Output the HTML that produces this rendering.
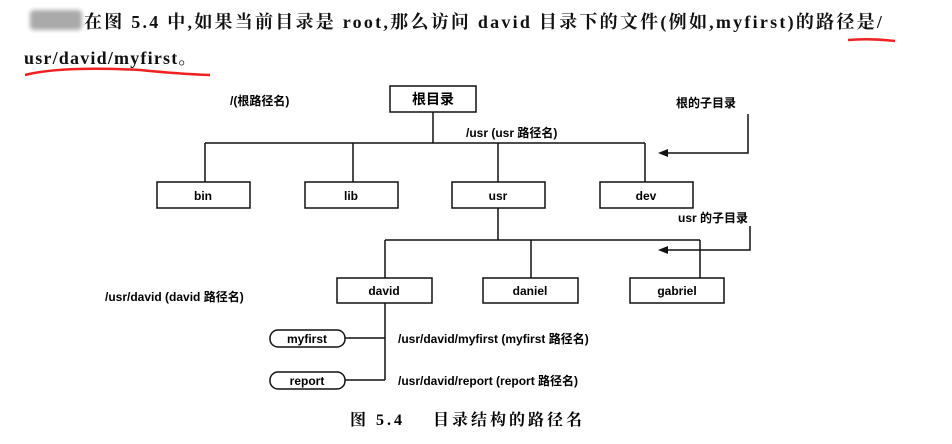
<!DOCTYPE html>
<html><head><meta charset="utf-8"><style>
body{margin:0;background:#fff;width:952px;height:444px;overflow:hidden;position:relative;font-family:"Liberation Sans","Noto Sans CJK SC",sans-serif;color:#111}
.t{position:absolute;white-space:nowrap}
.s{font-family:"Liberation Serif","Noto Serif CJK SC",serif;font-weight:bold}
</style></head><body>
<div style="position:absolute;left:30px;top:10px;width:52px;height:20px;background:#aaa;filter:blur(2px);border-radius:4px"></div>
<div class="t s" style="left:84px;top:8px;font-size:18px;letter-spacing:2.25px">在图 5.4 中,如果当前目录是 root,那么访问 david 目录下的文件(例如,myfirst)的路径是/</div>
<div class="t s" style="left:24px;top:44px;font-size:18px;letter-spacing:1.2px">usr/david/myfirst。</div>
<svg width="952" height="444" style="position:absolute;left:0;top:0" font-family="Liberation Sans, Noto Sans CJK SC, sans-serif" font-weight="bold" font-size="12">
<path d="M848 40 Q870 38 895 41" stroke="#e22" stroke-width="2.5" fill="none"/>
<path d="M25 75 Q60 66 140 70 Q180 74 210 75" stroke="#e22" stroke-width="2.5" fill="none"/>
<g stroke="#111" stroke-width="1.5" fill="#fff">
<rect x="390" y="86" width="86" height="26"/>
<line x1="433" y1="112" x2="433" y2="143"/>
<line x1="205" y1="143" x2="645" y2="143"/>
<line x1="205" y1="143" x2="205" y2="182"/>
<line x1="353" y1="143" x2="353" y2="182"/>
<line x1="498" y1="143" x2="498" y2="182"/>
<line x1="645" y1="143" x2="645" y2="182"/>
<rect x="157" y="182" width="93" height="26"/>
<rect x="305" y="182" width="93" height="26"/>
<rect x="452" y="182" width="93" height="26"/>
<rect x="600" y="182" width="93" height="26"/>
<line x1="498" y1="208" x2="498" y2="240"/>
<line x1="385" y1="240" x2="700" y2="240"/>
<line x1="385" y1="240" x2="385" y2="278"/>
<line x1="531" y1="240" x2="531" y2="278"/>
<line x1="700" y1="240" x2="700" y2="278"/>
<rect x="337" y="278" width="95" height="25"/>
<rect x="483" y="278" width="95" height="25"/>
<rect x="630" y="278" width="94" height="25"/>
<line x1="385" y1="303" x2="385" y2="380"/>
<line x1="345" y1="338" x2="385" y2="338"/>
<line x1="345" y1="380" x2="385" y2="380"/>
<rect x="270" y="330" width="75" height="17" rx="8"/>
<rect x="270" y="372" width="75" height="17" rx="8"/>
<polyline points="748,114 748,153 664,153" fill="none"/>
<polyline points="750,226 750,250 664,250" fill="none"/>
</g>
<path d="M658 153 L668 149 L668 157Z M658 250 L668 246 L668 254Z" fill="#111"/>
<g text-anchor="middle">
<text x="433" y="104" font-size="14">根目录</text>
<text x="203" y="200">bin</text><text x="351" y="200">lib</text><text x="498" y="200">usr</text><text x="646" y="200">dev</text>
<text x="384" y="295">david</text><text x="530" y="295">daniel</text><text x="677" y="295">gabriel</text>
<text x="307" y="343">myfirst</text><text x="307" y="385">report</text>
</g>
<text x="230" y="105">/(根路径名)</text>
<text x="466" y="137">/usr (usr 路径名)</text>
<text x="676" y="107">根的子目录</text>
<text x="678" y="222">usr 的子目录</text>
<text x="105" y="301">/usr/david (david 路径名)</text>
<text x="398" y="343">/usr/david/myfirst (myfirst 路径名)</text>
<text x="398" y="385">/usr/david/report (report 路径名)</text>
<text x="350" y="425" font-size="16" letter-spacing="3" font-family="Liberation Serif, Noto Serif CJK SC, serif" xml:space="preserve">图 5.4    目录结构的路径名</text>
</svg>
</body></html>
